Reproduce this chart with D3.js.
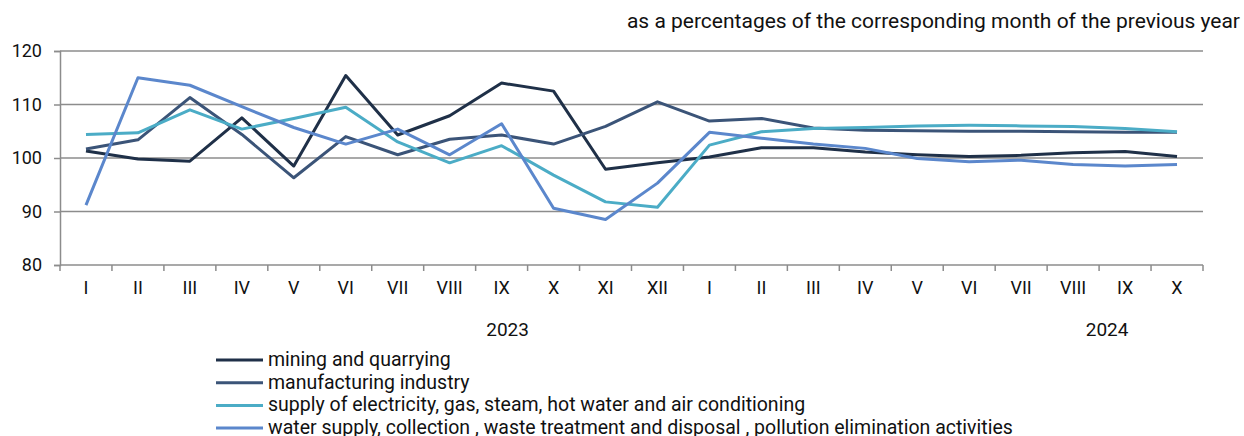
<!DOCTYPE html>
<html>
<head>
<meta charset="utf-8">
<script src="https://cdn.jsdelivr.net/npm/d3@7"></script>
<style>
  body { margin: 0; background: #fff; }
  text { font-family: Roboto, "Noto Sans", sans-serif; fill: #111; }
</style>
</head>
<body>
<div id="chart"></div>
<script>
// month labels, two years
const months = ["I","II","III","IV","V","VI","VII","VIII","IX","X","XI","XII",
                "I","II","III","IV","V","VI","VII","VIII","IX","X"];
const years = ["2023", "2024"];
const yTicks = [80, 90, 100, 110, 120];

const mining = [101.3, 99.8, 99.4, 107.5, 98.5, 115.4, 104.3, 107.9, 114.0, 112.5, 97.9, 99.1,
                100.2, 101.9, 101.9, 101.1, 100.6, 100.3, 100.5, 101.0, 101.2, 100.3];
const manufacturing = [101.7, 103.4, 111.3, 104.4, 96.3, 104.0, 100.6, 103.5, 104.3, 102.6, 105.9, 110.5,
                106.9, 107.4, 105.6, 105.2, 105.1, 105.0, 105.0, 104.9, 104.8, 104.8];
const electricity = [104.4, 104.7, 109.0, 105.4, 107.4, 109.5, 103.0, 99.1, 102.3, 96.8, 91.8, 90.8,
                102.4, 104.9, 105.5, 105.7, 106.0, 106.1, 106.0, 105.9, 105.5, 104.9];
const water = [91.2, 115.0, 113.6, 109.6, 105.7, 102.6, 105.4, 100.6, 106.4, 90.6, 88.5, 95.3,
                104.8, 103.7, 102.6, 101.8, 99.9, 99.3, 99.6, 98.8, 98.5, 98.8];

const seriesNames = ["mining and quarrying", "manufacturing industry",
  "supply of electricity, gas, steam, hot water and air conditioning",
  "water supply, collection , waste treatment and disposal , pollution elimination activities"];
const seriesColors = ["#1f3048", "#3b5478", "#4bacc6", "#5b87cc"];
const series = [mining, manufacturing, electricity, water];

const width = 1244, height = 436;
const margin = {left: 60, right: 41, top: 51, bottom: 171};

const svg = d3.select("#chart").append("svg")
  .attr("width", width).attr("height", height);

const x = d3.scaleBand()
  .domain(d3.range(months.length))
  .range([margin.left, width - margin.right]);
const y = d3.scaleLinear()
  .domain([80, 120])
  .range([height - margin.bottom, margin.top]);

// gridlines
svg.append("g").selectAll("line")
  .data(yTicks.slice(1))
  .enter().append("line")
  .attr("x1", margin.left).attr("x2", width - margin.right)
  .attr("y1", d => y(d)).attr("y2", d => y(d))
  .attr("stroke", "#8c8c8c").attr("stroke-width", 1.5);

// y axis
const yAxis = svg.append("g")
  .attr("transform", `translate(${margin.left},0)`)
  .call(d3.axisLeft(y).tickValues(yTicks).tickSize(6).tickPadding(12));
yAxis.select(".domain").attr("stroke", "#8c8c8c").attr("stroke-width", 1.5);
yAxis.selectAll(".tick line").attr("stroke", "#8c8c8c").attr("stroke-width", 1.5);
yAxis.selectAll("text").style("font-size", "18px").attr("fill", "#111");

// x axis - ticks on band boundaries
const xAxisG = svg.append("g")
  .attr("transform", `translate(0,${y(80)})`);
xAxisG.append("line")
  .attr("x1", margin.left).attr("x2", width - margin.right)
  .attr("stroke", "#8c8c8c").attr("stroke-width", 1.5);
xAxisG.selectAll(".tk")
  .data(d3.range(months.length + 1))
  .enter().append("line")
  .attr("x1", i => margin.left + i * x.step())
  .attr("x2", i => margin.left + i * x.step())
  .attr("y1", 0).attr("y2", 6)
  .attr("stroke", "#8c8c8c").attr("stroke-width", 1.5);
xAxisG.selectAll("text")
  .data(months)
  .enter().append("text")
  .attr("x", (d, i) => x(i) + x.bandwidth() / 2)
  .attr("y", 29)
  .attr("text-anchor", "middle")
  .style("font-size", "18px")
  .text(d => d);

// year labels
const yearX = [x(8) + x.bandwidth() / 2 + 6, x(20) + x.bandwidth() / 2 - 18];
svg.selectAll(".year")
  .data(years)
  .enter().append("text")
  .attr("x", (d, i) => yearX[i])
  .attr("y", 336)
  .attr("text-anchor", "middle")
  .style("font-size", "19px")
  .text(d => d);

// lines
const line = d3.line()
  .x((d, i) => x(i) + x.bandwidth() / 2)
  .y(d => y(d));

svg.selectAll(".series")
  .data(series)
  .enter().append("path")
  .attr("d", d => line(d))
  .attr("fill", "none")
  .attr("stroke", (d, i) => seriesColors[i])
  .attr("stroke-width", 3)
  .attr("stroke-linejoin", "round");

// subtitle
svg.append("text")
  .attr("x", 1240).attr("y", 28)
  .attr("text-anchor", "end")
  .style("font-size", "21px")
  .text("as a percentages of the corresponding month of the previous year");

// legend
const legend = svg.append("g");
const rows = legend.selectAll("g")
  .data(seriesNames)
  .enter().append("g")
  .attr("transform", (d, i) => `translate(216,${360 + i * 22.7})`);
rows.append("line")
  .attr("x1", 0).attr("x2", 47)
  .attr("stroke", (d, i) => seriesColors[i])
  .attr("stroke-width", 3);
rows.append("text")
  .attr("x", 52).attr("y", 6)
  .style("font-size", "19.5px")
  .text(d => d);
</script>
</body>
</html>
